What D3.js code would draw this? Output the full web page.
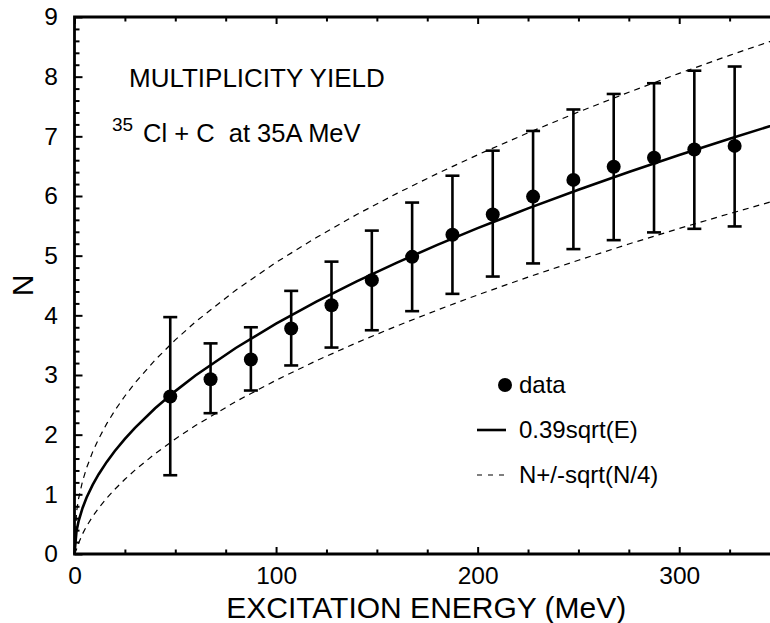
<!DOCTYPE html>
<html>
<head>
  <meta charset="UTF-8">
  <title>multiplicity</title>
  <style>
    body { margin: 0; background: #fff; }
    svg { display: block; font-family: "Liberation Sans", Arial, Helvetica, sans-serif; }
  </style>
</head>
<body>
  <script src="https://cdn.jsdelivr.net/npm/d3@7"></script>
  <script type="text/javascript">
  // data points with error bars
  var energy = [47.5, 67.5, 87.5, 107.5, 127.5, 147.5, 167.5, 187.5, 207.5, 227.5, 247.5, 267.5, 287.5, 307.5, 327.5];
  var mult   = [2.64, 2.93, 3.26, 3.78, 4.17, 4.59, 4.98, 5.35, 5.69, 5.99, 6.27, 6.49, 6.64, 6.78, 6.84];
  var errHi  = [3.97, 3.53, 3.80, 4.41, 4.90, 5.42, 5.89, 6.34, 6.76, 7.09, 7.45, 7.71, 7.89, 8.10, 8.17];
  var errLo  = [1.32, 2.36, 2.74, 3.16, 3.46, 3.75, 4.07, 4.36, 4.65, 4.87, 5.11, 5.26, 5.39, 5.45, 5.49];

  // curves: 0.39sqrt(E) and N +/- sqrt(N/4)
  var curveE = [0, 1, 2, 4, 6, 9, 12, 16, 20, 25, 30, 40, 50, 60, 80, 100, 120, 140, 160, 180, 200, 225, 250, 275, 300, 325, 350];
  var fitN   = [0, 0.386, 0.546, 0.772, 0.946, 1.158, 1.337, 1.544, 1.727, 1.93, 2.115, 2.442, 2.73, 2.991, 3.453, 3.861, 4.229, 4.569, 4.884, 5.18, 5.461, 5.792, 6.104, 6.402, 6.687, 6.961, 7.223];
  var upperN = [0, 0.702, 0.923, 1.222, 1.444, 1.711, 1.932, 2.185, 2.404, 2.648, 2.867, 3.252, 3.588, 3.890, 4.422, 4.887, 5.305, 5.689, 6.044, 6.376, 6.690, 7.059, 7.408, 7.739, 8.055, 8.357, 8.647];
  var lowerN = [0, 0.078, 0.180, 0.338, 0.467, 0.629, 0.770, 0.936, 1.084, 1.252, 1.405, 1.682, 1.928, 2.152, 2.554, 2.913, 3.239, 3.541, 3.823, 4.088, 4.342, 4.641, 4.924, 5.196, 5.456, 5.705, 5.945];

  var xMajor = [0, 100, 200, 300];
  var xMinor = [25, 50, 75, 125, 150, 175, 225, 250, 275, 325];
  var yMajor = [0, 1, 2, 3, 4, 5, 6, 7, 8, 9];
  var yMinor = d3.range(1, 45).map(function (i) { return i * 0.2; }).filter(function (v) { return Math.abs(v - Math.round(v)) > 0.01; });

  var width = 770, height = 623;
  var padLeft = 74.5, padBottom = 554, padTop = 17, padRight = 780;

  var svg = d3.select("body").append("svg")
    .attr("width", width)
    .attr("height", height);

  var x = d3.scaleLinear().domain([0, 350]).range([padLeft, padRight]);
  var y = d3.scaleLinear().domain([0, 9]).range([padBottom, padTop]);

  // curves
  var line = function (vals) {
    return d3.line()
      .x(function (d, i) { return x(curveE[i]); })
      .y(function (d) { return y(d); })(vals);
  };
  svg.append("path").attr("d", line(upperN))
    .attr("fill", "none").attr("stroke", "#000").attr("stroke-width", 1.2).attr("stroke-dasharray", "6,5");
  svg.append("path").attr("d", line(lowerN))
    .attr("fill", "none").attr("stroke", "#000").attr("stroke-width", 1.2).attr("stroke-dasharray", "6,5");
  svg.append("path").attr("d", line(fitN))
    .attr("fill", "none").attr("stroke", "#000").attr("stroke-width", 2.6);

  // error bars
  var pts = energy.map(function (e, i) { return { e: e, n: mult[i], hi: errHi[i], lo: errLo[i] }; });
  var eb = svg.append("g").attr("stroke", "#000").attr("stroke-width", 2.6);
  eb.selectAll(".v").data(pts).enter().append("line")
    .attr("x1", function (d) { return x(d.e); }).attr("x2", function (d) { return x(d.e); })
    .attr("y1", function (d) { return y(d.lo); }).attr("y2", function (d) { return y(d.hi); });
  eb.selectAll(".t").data(pts).enter().append("line")
    .attr("x1", function (d) { return x(d.e) - 7; }).attr("x2", function (d) { return x(d.e) + 7; })
    .attr("y1", function (d) { return y(d.hi); }).attr("y2", function (d) { return y(d.hi); });
  eb.selectAll(".b").data(pts).enter().append("line")
    .attr("x1", function (d) { return x(d.e) - 7; }).attr("x2", function (d) { return x(d.e) + 7; })
    .attr("y1", function (d) { return y(d.lo); }).attr("y2", function (d) { return y(d.lo); });
  svg.append("g").selectAll("circle").data(pts).enter().append("circle")
    .attr("cx", function (d) { return x(d.e); })
    .attr("cy", function (d) { return y(d.n); })
    .attr("r", 7)
    .attr("fill", "#000");

  // axes
  function styleAxis(g, size) {
    g.select(".domain").remove();
    g.selectAll(".tick line").attr("stroke-width", 2);
    g.selectAll("text").attr("font-size", size).attr("fill", "#000")
      .attr("font-family", "'Liberation Sans', Arial, Helvetica, sans-serif");
  }
  svg.append("g").attr("transform", "translate(0," + padBottom + ")")
    .call(d3.axisBottom(x).tickValues(xMajor).tickSize(-7).tickPadding(13).tickFormat(d3.format("d")))
    .call(styleAxis, 24.5);
  svg.append("g").attr("transform", "translate(0," + padBottom + ")")
    .call(d3.axisBottom(x).tickValues(xMinor).tickSize(-4.5).tickFormat(""))
    .call(styleAxis, 24);
  svg.append("g").attr("transform", "translate(0," + padTop + ")")
    .call(d3.axisTop(x).tickValues(xMajor).tickSize(-7).tickFormat(""))
    .call(styleAxis, 24);
  svg.append("g").attr("transform", "translate(0," + padTop + ")")
    .call(d3.axisTop(x).tickValues(xMinor).tickSize(-4.5).tickFormat(""))
    .call(styleAxis, 24);
  svg.append("g").attr("transform", "translate(" + padLeft + ",0)")
    .call(d3.axisLeft(y).tickValues(yMajor).tickSize(-8).tickPadding(16.5).tickFormat(d3.format("d")))
    .call(styleAxis, 24.5);
  svg.append("g").attr("transform", "translate(" + padLeft + ",0)")
    .call(d3.axisLeft(y).tickValues(yMinor).tickSize(-5).tickFormat(""))
    .call(styleAxis, 24);

  // frame
  svg.append("path")
    .attr("d", "M" + padRight + "," + padTop + "H" + padLeft + "V" + padBottom + "H" + padRight)
    .attr("fill", "none").attr("stroke", "#000").attr("stroke-width", 2.8);

  // axis titles
  svg.append("text").attr("x", (padLeft + padRight) / 2 - 1).attr("y", 618)
    .attr("text-anchor", "middle").attr("font-size", 30).text("EXCITATION ENERGY (MeV)");
  svg.append("text").attr("transform", "translate(33," + ((padTop + padBottom) / 2) + ") rotate(-90)")
    .attr("text-anchor", "middle").attr("font-size", 30).text("N");

  // annotations
  svg.append("text").attr("x", 129).attr("y", 87).attr("font-size", 26).text("MULTIPLICITY YIELD");
  svg.append("text").attr("x", 112).attr("y", 131).attr("font-size", 19).text("35");
  svg.append("text").attr("x", 143).attr("y", 142).attr("font-size", 25.5)
    .style("white-space", "pre").text("Cl + C  at 35A MeV");

  // legend
  var lg = svg.append("g");
  lg.append("circle").attr("cx", 505).attr("cy", 385).attr("r", 7).attr("fill", "#000");
  lg.append("text").attr("x", 519).attr("y", 393).attr("font-size", 24).text("data");
  lg.append("line").attr("x1", 477).attr("x2", 506).attr("y1", 430).attr("y2", 430)
    .attr("stroke", "#000").attr("stroke-width", 2.6);
  lg.append("text").attr("x", 519).attr("y", 438).attr("font-size", 24).text("0.39sqrt(E)");
  lg.append("line").attr("x1", 477).attr("x2", 506).attr("y1", 475).attr("y2", 475)
    .attr("stroke", "#000").attr("stroke-width", 1.2).attr("stroke-dasharray", "5,6");
  lg.append("text").attr("x", 519).attr("y", 483).attr("font-size", 24).text("N+/-sqrt(N/4)");
  </script>
</body>
</html>
